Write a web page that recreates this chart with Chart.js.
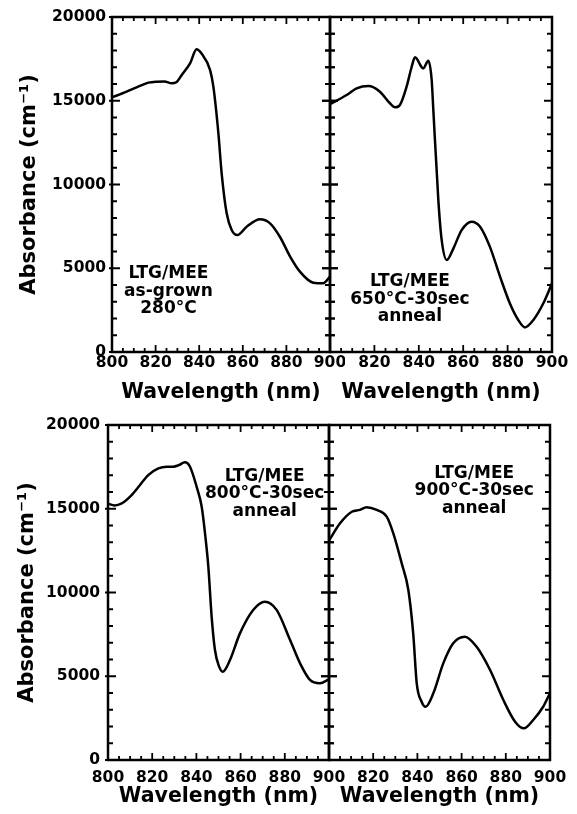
<!DOCTYPE html>
<html>
<head>
<meta charset="utf-8">
<script src="https://cdn.jsdelivr.net/npm/chart.js@4.4.1/dist/chart.umd.min.js"></script>
<style>
  html, body { margin: 0; padding: 0; background: #fff; }
  #wrap { position: relative; width: 577px; height: 814px; overflow: hidden; }
  canvas { position: absolute; }
</style>
</head>
<body>
<div id="wrap">
  <canvas id="tl" width="345" height="412" style="left:0;top:0"></canvas>
  <canvas id="tr" width="255" height="412" style="left:322px;top:0"></canvas>
  <canvas id="bl" width="345" height="406" style="left:0;top:408px"></canvas>
  <canvas id="br" width="256" height="406" style="left:321px;top:408px"></canvas>
</div>
<script>
// ── DATOS ──
const xTicks = [800, 820, 840, 860, 880, 900];
const yTicks = [0, 5000, 10000, 15000, 20000];

// as-grown 280°C
const tlWave = [800, 806.7, 811.3, 816.7, 820.5, 824, 827.4, 829.5, 832, 835.8, 838.8, 841, 845, 846.5, 848.8, 850.3, 852.6, 854.9, 857.5, 861.8, 867.9, 872.5, 877, 881.7, 886.2, 892.3, 896.9, 900];
const tlAbs  = [15200, 15540, 15800, 16080, 16140, 16150, 16040, 16100, 16540, 17230, 18070, 17830, 16830, 15840, 13060, 10670, 8280, 7280, 6980, 7480, 7920, 7680, 6880, 5700, 4800, 4140, 4100, 4500];

// 650°C-30sec anneal
const trWave = [800, 801.5, 807.5, 812, 817.3, 822.5, 827, 829.3, 831.5, 834.5, 836.8, 838.3, 842, 844.3, 845.8, 846.5, 848.8, 850.3, 852.6, 855.6, 859.3, 863.8, 867.6, 872, 876.6, 881, 884.8, 887.8, 891.6, 896.1, 900];
const trAbs  = [14800, 14900, 15340, 15740, 15880, 15540, 14850, 14610, 14750, 15840, 17030, 17590, 16930, 17390, 16240, 14570, 9070, 6690, 5490, 6190, 7280, 7780, 7480, 6290, 4500, 2910, 1910, 1470, 1910, 2910, 4100];

// 800°C-30sec anneal
const blWave = [800, 803, 806, 810, 814.5, 818.2, 822.8, 826.6, 829.5, 832, 834.8, 837.1, 840.1, 842.4, 843.9, 845.4, 846.9, 848.4, 850.2, 851.9, 855.2, 859.7, 865.7, 871, 876.3, 882.4, 886.9, 891.4, 895.9, 900];
const blAbs  = [15300, 15200, 15300, 15720, 16420, 17010, 17410, 17510, 17510, 17600, 17770, 17510, 16320, 15120, 13530, 11540, 8550, 6570, 5600, 5270, 5970, 7560, 8960, 9450, 8960, 7160, 5770, 4780, 4580, 4820];

// 900°C-30sec anneal
const brWave = [800, 805, 810.3, 814, 817, 821.6, 826.1, 829.1, 832.9, 835.9, 838.1, 839.7, 841.9, 843.7, 847.2, 851.7, 856.2, 861.5, 866.8, 872.9, 878.9, 884.2, 888.2, 892.4, 896.9, 900];
const brAbs  = [13100, 14130, 14820, 14930, 15090, 14930, 14530, 13530, 11740, 10150, 7560, 4580, 3480, 3180, 3980, 5770, 6970, 7360, 6760, 5370, 3580, 2290, 1890, 2390, 3180, 4000];

const noteTL = ['LTG/MEE', 'as-grown', '280°C'];
const noteTR = ['LTG/MEE', '650°C-30sec', 'anneal'];
const noteBL = ['LTG/MEE', '800°C-30sec', 'anneal'];
const noteBR = ['LTG/MEE', '900°C-30sec', 'anneal'];

const FONT = '"DejaVu Sans", sans-serif';
const X_MINOR = 5, Y_MINOR = 1000;

// marco con marcas hacia dentro + texto de la muestra
function makeFrame(note, notePos, both) {
  return {
    id: 'frame',
    afterDatasetsDraw(chart) {
      const { ctx, chartArea: a, scales: { x, y } } = chart;
      ctx.save();
      ctx.strokeStyle = '#000';
      ctx.lineWidth = 1.8;
      ctx.beginPath();
      for (let v = 800; v <= 900; v += X_MINOR) {
        const px = x.getPixelForValue(v);
        const len = v % 20 === 0 ? 7 : 4;
        ctx.moveTo(px, a.top); ctx.lineTo(px, a.top + len);
        ctx.moveTo(px, a.bottom); ctx.lineTo(px, a.bottom - len);
      }
      for (let v = 0; v <= 20000; v += Y_MINOR) {
        const py = y.getPixelForValue(v);
        const major = v % 5000 === 0;
        const len = major ? 8 : 5;
        const lOut = both === 'left' ? len : (major ? 3 : 0);
        ctx.moveTo(a.left - lOut, py); ctx.lineTo(a.left + len, py);
        const rOut = both === 'right' ? len : 0;
        ctx.moveTo(a.right + rOut, py); ctx.lineTo(a.right - len, py);
      }
      ctx.stroke();
      ctx.lineWidth = 2.5;
      ctx.strokeRect(a.left, a.top, a.right - a.left, a.bottom - a.top);

      ctx.fillStyle = '#000';
      ctx.font = 'bold 17px ' + FONT;
      ctx.textAlign = 'center';
      ctx.textBaseline = 'middle';
      const nx = x.getPixelForValue(notePos[0]);
      const ny = y.getPixelForValue(notePos[1]);
      note.forEach((t, i) => ctx.fillText(t, nx, ny + i * 17.5));
      ctx.restore();
    }
  };
}

function makePanel(id, wave, abs, note, c) {
  const isLeft = c.yWidth != null;
  return new Chart(document.getElementById(id), {
    type: 'line',
    data: {
      datasets: [{
        data: wave.map((w, i) => ({ x: w, y: abs[i] })),
        borderColor: '#000',
        borderWidth: 2.5,
        pointRadius: 0,
        cubicInterpolationMode: 'monotone',
        fill: false
      }]
    },
    options: {
      responsive: false,
      animation: false,
      devicePixelRatio: 1,
      layout: { padding: c.pad },
      plugins: { legend: { display: false }, tooltip: { enabled: false } },
      scales: {
        x: {
          type: 'linear', min: 800, max: 900,
          grid: { display: false, drawTicks: false },
          border: { display: false },
          afterBuildTicks: s => { s.ticks = xTicks.map(v => ({ value: v })); },
          afterFit: s => { s.height = c.xHeight; s.paddingLeft = 0; s.paddingRight = 0; },
          ticks: {
            color: '#000', padding: c.xLabelPad, maxRotation: 0, autoSkip: false,
            font: { family: FONT, weight: 'bold', size: 15.5 },
            callback: v => (c.hideFirstX && v === 800) ? '' : String(v)
          },
          title: {
            display: true, text: 'Wavelength (nm)', color: '#000',
            font: { family: FONT, weight: 'bold', size: 20.5 },
            padding: { top: 0, bottom: c.xTitlePad }
          }
        },
        y: {
          display: isLeft, min: 0, max: 20000,
          grid: { display: false, drawTicks: false },
          border: { display: false },
          afterBuildTicks: s => { s.ticks = yTicks.map(v => ({ value: v })); },
          afterFit: s => { if (isLeft) s.width = c.yWidth; s.paddingTop = 0; s.paddingBottom = 0; },
          ticks: {
            color: '#000', padding: c.yLabelPad,
            font: { family: FONT, weight: 'bold', size: 15.5 },
            callback: v => String(v)
          },
          title: {
            display: isLeft, text: 'Absorbance (cm⁻¹)', color: '#000',
            font: { family: FONT, weight: 'bold', size: 21 },
            padding: { top: c.yTitlePad, bottom: 0 }
          }
        }
      }
    },
    plugins: [makeFrame(note, c.notePos, c.both)]
  });
}

makePanel('tl', tlWave, tlAbs, noteTL, {
  pad: { top: 17, right: 15, bottom: 0, left: 0 }, yWidth: 112, xHeight: 60,
  xLabelPad: 1.5, xTitlePad: 7.5, yLabelPad: 6, yTitlePad: 16.5,
  notePos: [825.9, 4660], both: 'right'
});
makePanel('tr', trWave, trAbs, noteTR, {
  pad: { top: 17, right: 25, bottom: 0, left: 8 }, xHeight: 60,
  xLabelPad: 1.5, xTitlePad: 7.5, hideFirstX: true,
  notePos: [836, 4200], both: 'left'
});
makePanel('bl', blWave, blAbs, noteBL, {
  pad: { top: 17, right: 16, bottom: 0, left: 0 }, yWidth: 108, xHeight: 54,
  xLabelPad: 8.3, xTitlePad: 5.5, yLabelPad: 8, yTitlePad: 14.8,
  notePos: [870.9, 16940], both: 'right'
});
makePanel('br', brWave, brAbs, noteBR, {
  pad: { top: 17, right: 27, bottom: 0, left: 8 }, xHeight: 54,
  xLabelPad: 8.3, xTitlePad: 5.5, hideFirstX: true,
  notePos: [865.7, 17100], both: 'left'
});
</script>
</body>
</html>
